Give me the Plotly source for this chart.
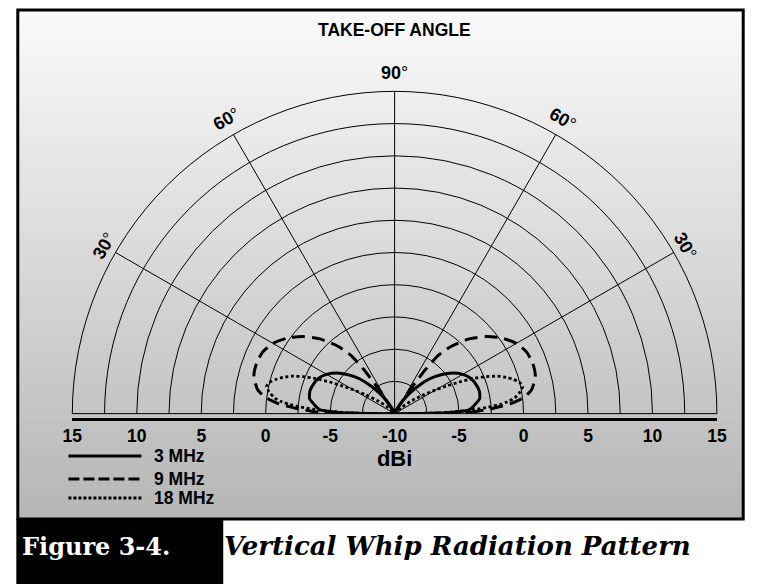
import math
import plotly.graph_objects as go

# ---------------- data ----------------
ang_3 = [0, 1, 2, 3, 5, 7.5, 10, 15, 20, 25, 30, 35, 40, 45, 50, 55, 60, 65, 70, 90]
gain_3 = [-10, -5.8, -4.8, -4.2, -3.9, -3.6, -3.3, -3.2, -3.3, -3.5, -3.9, -4.5,
          -5.3, -6.2, -7.3, -8.3, -9.2, -9.8, -10, -10]

ang_9 = [0, 1, 2, 3, 4, 5, 6, 7.5, 10, 15, 20, 25, 30, 35, 40, 45, 50, 53, 55, 57, 59, 62, 90]
gain_9 = [-10, -4.1, -3.3, -2.4, -1.7, -0.9, -0.4, 0.2, 0.8, 1.3, 1.4, 1.3, 0.9, 0.2,
          -0.7, -1.8, -3.2, -4.3, -5.8, -7.7, -9.2, -10, -10]

ang_18 = [0, 1, 2, 3, 4, 5, 6, 7.5, 10, 12, 14, 16, 18, 20, 22, 24, 26, 28, 30, 33, 37, 42, 50, 90]
gain_18 = [-10, -6.6, -5.1, -3.8, -2.7, -1.8, -1.2, -0.6, -0.1, 0.15, 0.0, -0.4, -0.9,
           -1.5, -2.35, -3.3, -4.4, -5.45, -6.3, -7.3, -8.3, -9.2, -10, -10]

series_names = ["3 MHz", "9 MHz", "18 MHz"]
ring_vals = [-7.5, -5, -2.5, 0, 2.5, 5, 7.5, 10, 12.5]
spoke_angles = [30, 60, 90, 120, 150]
tick_offsets = [-25, -20, -15, -10, -5, 0, 5, 10, 15, 20, 25]
tick_labels = ["15", "10", "5", "0", "-5", "-10", "-5", "0", "5", "10", "15"]

# ---------------- geometry / styling ----------------
W, H = 761, 584
def X(px): return px / W
def Y(py): return 1 - py / H

CX, CY, R = 395, 418, 331
FONT = "Liberation Sans"

styles = [
    dict(color="black", width=3, dash="solid"),
    dict(color="black", width=3, dash="13px,7px"),
    dict(color="black", width=2.8, dash="3px,2.6px"),
]
legend_dash = ["solid", "11px,4px", "3px,2px"]

fig = go.Figure()

for name, ang, gain, st in zip(series_names, [ang_3, ang_9, ang_18],
                               [gain_3, gain_9, gain_18], styles):
    theta = list(ang) + [180 - a for a in reversed(ang)]
    r = list(gain) + list(reversed(gain))
    fig.add_trace(go.Scatterpolar(theta=theta, r=r, mode="lines", name=name,
                                  line=dict(color=st["color"], width=st["width"],
                                            dash=st["dash"], shape="spline", smoothing=0.6),
                                  hoverinfo="skip"))

# invisible trace to bring the cartesian baseline axis to life
fig.add_trace(go.Scatter(x=[tick_offsets[0], tick_offsets[-1]], y=[0, 0], mode="markers",
                         marker=dict(opacity=0), hoverinfo="skip", showlegend=False))

# ---------------- background shapes ----------------
shapes = []
top, bot = 10, 519
n = 80
for i in range(n):
    y0 = top + (bot - top) * i / n
    y1 = top + (bot - top) * (i + 1) / n + 0.5
    t = i / (n - 1)
    g = round(250 - (250 - 182) * t)
    shapes.append(dict(type="rect", xref="paper", yref="paper", layer="below",
                       x0=X(8), x1=X(753), y0=Y(y0), y1=Y(y1),
                       fillcolor=f"rgb({g},{g},{g})", line=dict(width=0)))
shapes.append(dict(type="rect", xref="paper", yref="paper", layer="above",
                   x0=X(8), x1=X(753), y0=Y(top), y1=Y(bot),
                   line=dict(color="black", width=3), fillcolor="rgba(0,0,0,0)"))
shapes.append(dict(type="rect", xref="paper", yref="paper", layer="above",
                   x0=X(6.5), x1=X(219), y0=Y(bot), y1=0,
                   line=dict(width=0), fillcolor="black"))

# legend keys
annotations = []
leg_y = [456, 479, 498]
for name, yy, st, dsh in zip(series_names, leg_y, styles, legend_dash):
    shapes.append(dict(type="line", xref="paper", yref="paper", layer="above",
                       x0=X(60), x1=X(135), y0=Y(yy), y1=Y(yy),
                       line=dict(color="black", width=st["width"], dash=dsh)))
    annotations.append(dict(xref="paper", yref="paper", x=X(146), y=Y(yy),
                            text=f"<b>{name}</b>", showarrow=False, xanchor="left",
                            yanchor="middle", font=dict(family=FONT, size=17.5, color="black")))

# angle labels around the outer ring
for a in spoke_angles:
    rr = R + 14
    px = CX + rr * math.cos(math.radians(a))
    py = CY - rr * math.sin(math.radians(a))
    annotations.append(dict(xref="paper", yref="paper", x=X(px), y=Y(py),
                            text=f"<b>{a if a <= 90 else 180 - a}</b>°", showarrow=False,
                            xanchor="center", yanchor="middle", textangle=90 - a,
                            font=dict(family=FONT, size=18, color="black")))

annotations.append(dict(xref="paper", yref="paper", x=X(CX), y=Y(30),
                        text="<b>TAKE-OFF ANGLE</b>", showarrow=False,
                        xanchor="center", yanchor="middle",
                        font=dict(family=FONT, size=17.5, color="black")))
annotations.append(dict(xref="paper", yref="paper", x=X(10), y=Y(546),
                        text="<b>Figure 3-4.</b>", showarrow=False,
                        xanchor="left", yanchor="middle",
                        font=dict(family="DejaVu Serif", size=24, color="white")))
annotations.append(dict(xref="paper", yref="paper", x=X(218), y=Y(546),
                        text="<b><i>Vertical Whip Radiation Pattern</i></b>", showarrow=False,
                        xanchor="left", yanchor="middle",
                        font=dict(family="DejaVu Serif", size=26, color="black")))

fig.update_layout(
    width=W, height=H, margin=dict(l=0, r=0, t=0, b=0),
    paper_bgcolor="white", plot_bgcolor="rgba(0,0,0,0)", showlegend=False,
    polar=dict(
        domain=dict(x=[X(CX - R), X(CX + R)], y=[Y(CY), Y(CY - R)]),
        sector=[0, 180], bgcolor="rgba(0,0,0,0)",
        radialaxis=dict(range=[-10, 15], tickvals=ring_vals, showticklabels=False,
                        ticks="", showline=False, gridcolor="black", gridwidth=1),
        angularaxis=dict(tickvals=spoke_angles, showticklabels=False, ticks="",
                         showline=True, linecolor="black", linewidth=1,
                         gridcolor="black", gridwidth=1),
    ),
    xaxis=dict(domain=[X(CX - R), X(CX + R)], range=[tick_offsets[0], tick_offsets[-1]],
               tickvals=tick_offsets, ticktext=tick_labels, showline=True,
               linecolor="black", linewidth=3, showgrid=False, zeroline=False,
               ticks="", tickfont=dict(family=FONT, size=17.5, color="black", weight="bold"),
               title=dict(text="dBi", font=dict(family=FONT, size=22, color="black",
                                                 weight="bold"), standoff=2),
               fixedrange=True),
    yaxis=dict(domain=[Y(CY), Y(CY - R)], range=[0, 1], visible=False, fixedrange=True),
    shapes=shapes, annotations=annotations,
)

fig.write_html("out.html", config={"displayModeBar": False},
               post_script="document.body.style.margin='0';"
                           "document.body.style.overflow='hidden';")
